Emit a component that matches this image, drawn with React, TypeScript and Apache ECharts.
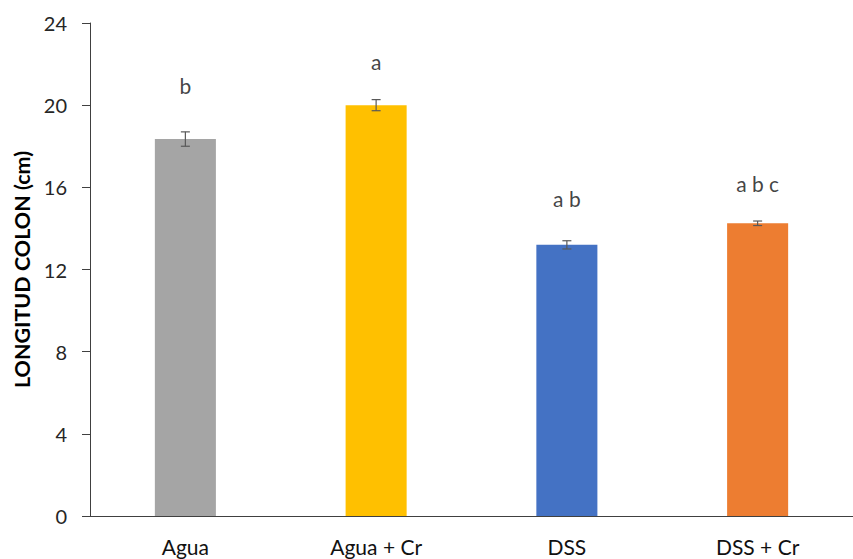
import React, { useEffect, useRef } from "react";
import * as echarts from "echarts";

const categories = ["Agua", "Agua + Cr", "DSS", "DSS + Cr"];
const means = [18.35, 20.0, 13.2, 14.25];
const errors = [0.35, 0.27, 0.2, 0.11];
const colors = ["#A5A5A5", "#FFC000", "#4472C4", "#ED7D31"];
const letters = ["b", "a", "a b", "a b c"];
const letterY = [20.96, 22.13, 15.44, 16.2];
const yTicks = { min: 0, max: 24, interval: 4 };

const FONT = "Lato, 'Liberation Sans', Arial, sans-serif";

export default function App() {
  const ref = useRef<HTMLDivElement>(null);
  useEffect(() => {
    if (!ref.current) return;
    const chart = echarts.init(ref.current, undefined, { renderer: "svg" });
    chart.setOption({
      animation: false,
      backgroundColor: "#ffffff",
      grid: { left: 90, top: 23, width: 767, height: 493, containLabel: false },
      xAxis: {
        type: "category",
        data: categories,
        axisLine: { show: true, lineStyle: { color: "#404040", width: 1 } },
        axisTick: { show: false },
        axisLabel: { color: "#111", fontSize: 21, fontFamily: FONT, margin: 20 },
      },
      yAxis: {
        type: "value",
        min: yTicks.min,
        max: yTicks.max,
        interval: yTicks.interval,
        name: "LONGITUD COLON (cm)",
        nameLocation: "middle",
        nameRotate: 90,
        nameGap: 57,
        nameTextStyle: { fontSize: 21.5, fontWeight: "bold", color: "#000", fontFamily: FONT },
        axisLine: { show: true, lineStyle: { color: "#404040", width: 1 } },
        axisTick: { show: true, length: 8, lineStyle: { color: "#404040" } },
        splitLine: { show: false },
        axisLabel: { color: "#262626", fontSize: 20, fontFamily: FONT, margin: 23 },
      },
      series: [
        {
          type: "bar",
          barWidth: "32%",
          data: means.map((v, i) => ({ value: v, itemStyle: { color: colors[i] } })),
        },
        {
          type: "custom",
          data: means.map((v, i) => [i, v - errors[i], v + errors[i]]),
          renderItem: (params: any, api: any) => {
            const x = api.value(0);
            const lo = api.coord([x, api.value(1)]);
            const hi = api.coord([x, api.value(2)]);
            const hw = 4.5;
            const style = { stroke: "#595959", lineWidth: 1.2 };
            return {
              type: "group",
              children: [
                { type: "line", shape: { x1: lo[0], y1: lo[1], x2: hi[0], y2: hi[1] }, style },
                { type: "line", shape: { x1: lo[0] - hw, y1: lo[1], x2: lo[0] + hw, y2: lo[1] }, style },
                { type: "line", shape: { x1: hi[0] - hw, y1: hi[1], x2: hi[0] + hw, y2: hi[1] }, style },
              ],
            };
          },
          z: 5,
        },
        {
          type: "scatter",
          symbolSize: 0,
          data: letterY.map((v, i) => [i, v]),
          label: {
            show: true,
            position: "inside",
            formatter: (p: any) => letters[p.dataIndex],
            color: "#111",
            fontSize: 21,
            fontFamily: FONT,
          },
        },
      ],
    });
    return () => chart.dispose();
  }, []);
  return (
    <div
      ref={ref}
      style={{ position: "absolute", left: 0, top: 0, width: 853, height: 559 }}
    />
  );
}
